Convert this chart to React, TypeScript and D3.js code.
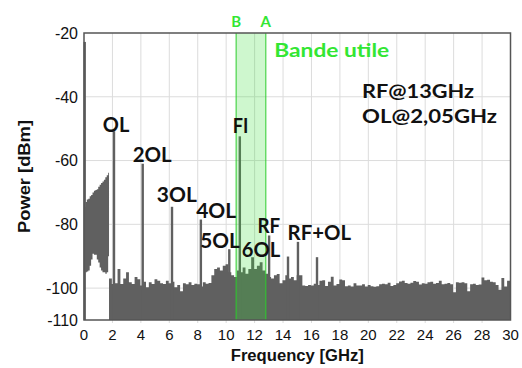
import React from 'react';
import * as d3 from 'd3';

// ---- data ----
const X_TICKS = [0, 2, 4, 6, 8, 10, 12, 14, 16, 18, 20, 22, 24, 26, 28, 30];
const Y_TICKS = [-20, -40, -60, -80, -100, -110];
const GRID_Y = [-40, -60, -80, -100];

// low-frequency region (0 - 1.7 GHz), envelope of a fast-oscillating trace
const LOW_FREQ = [0, 0.1, 0.2, 0.3, 0.4, 0.5, 0.6, 0.7, 0.8, 0.9, 1.0, 1.1, 1.2, 1.3, 1.4, 1.5, 1.6, 1.7];
const LOW_UPPER = [-74.5, -73, -72.2, -72, -71.2, -70.8, -70, -69.5, -69.2, -69, -68.2, -67.6, -67, -66.6, -66, -65.2, -64.6, -63.8];
const LOW_LOWER = [-95, -95, -94.8, -94.5, -93, -91, -89.2, -89.5, -89.5, -91, -92, -93.5, -94.5, -95, -95, -95.5, -95, -90];

// noise floor from 1.76 GHz to 30 GHz, every 0.2 GHz
const FLOOR_START = 1.76;
const FLOOR_STEP = 0.2;
const FLOOR = [
  -97, -98.7, -98.5, -94, -98.7, -97, -95, -98.2, -98.7, -96.5,
  -97.2, -99.2, -98, -99.7, -98.2, -98.7, -97.2, -97.7, -98.5, -98.7,
  -97.7, -98.5, -98, -99.7, -99, -101, -98.5, -98.8, -98.2, -99,
  -98.6, -98.8, -99.5, -98.2, -98.6, -98.4, -96, -94, -93.5, -94.5,
  -93, -92.5, -95, -96, -96.5, -94.5, -95, -93.5, -95.5, -94,
  -90.3, -94, -93, -91.9, -94.5, -95.5, -96.5, -97, -96, -95.6,
  -98.5, -97.5, -96, -97, -96.5, -97.5, -96, -96, -99.2, -99.3,
  -99, -99.2, -98.6, -99, -97.7, -97.5, -99.3, -98, -96.4, -99.2,
  -98.7, -97.3, -97.5, -99.4, -99.2, -99.5, -98.5, -99.2, -99.2, -98.8,
  -99.5, -99, -99.4, -99.6, -99.4, -98.8, -98.6, -98.8, -98.3, -99.3,
  -99, -98.5, -97.9, -97.7, -98.4, -98.6, -98.3, -97.8, -98, -98.9,
  -98.5, -98.6, -98.2, -98, -98.6, -98.4, -97.7, -98.8, -98.6, -98.4,
  -98.8, -101.3, -98.2, -98.3, -98.2, -98.5, -101, -98.8, -98.6, -99,
  -98.9, -96.7, -97.5, -97.4, -98, -98.2, -99, -100.5, -96.8, -99.5,
  -97.7, -97.5, -97.5,
];

// discrete spectral lines
const PEAK_FREQ = [0.05, 2.11, 4.13, 6.19, 8.22, 10.22, 10.96, 13.02, 14.35, 15.05, 16.39];
const PEAK_LEVEL = [-22.8, -50.8, -61, -74.5, -78.5, -87.8, -52.4, -83.5, -90.1, -85.5, -90.3];

// useful band limits (GHz)
const BAND_B = 10.7;
const BAND_A = 12.79;

const PEAK_LABELS = ['OL', '2OL', '3OL', '4OL', '5OL', '6OL', 'FI', 'RF', 'RF+OL'];
const INFO_LINES = ['RF@13GHz', 'OL@2,05GHz'];
const BAND_TITLE = 'Bande utile';
const X_TITLE = 'Frequency [GHz]';
const Y_TITLE = 'Power [dBm]';

export default function App() {
  const W = 522;
  const H = 368;
  const x = d3.scaleLinear().domain([0, 30]).range([84, 510.5]);
  const y = d3.scaleLinear().domain([-110, -20]).range([320, 33]);

  const gray = '#606060';
  const green = '#33e633';
  const labelFont = 'Lato, "Open Sans", sans-serif';
  const axisFont = '"Liberation Sans", Arial, sans-serif';

  type Pt = { f: number; lo: number; hi: number };
  const pts: Pt[] = [];
  LOW_FREQ.forEach((f, i) => pts.push({ f, lo: LOW_LOWER[i], hi: LOW_UPPER[i] }));
  FLOOR.forEach((v, i) => pts.push({ f: Math.min(30, FLOOR_START + i * FLOOR_STEP), lo: -110, hi: v }));

  const area = d3
    .area<Pt>()
    .x((d) => x(d.f))
    .y0((d) => y(d.lo))
    .y1((d) => y(d.hi))
    .curve(d3.curveStepAfter);

  // label placement (left x in GHz, baseline in dBm, target width px)
  const peakLabelPos: Record<string, [number, number, number]> = {
    OL: [1.32, -50.9, 26.5],
    '2OL': [3.43, -60.6, 39],
    '3OL': [5.12, -73.1, 40],
    '4OL': [7.89, -77.9, 40],
    '5OL': [8.17, -87.3, 39.5],
    '6OL': [11.1, -90.4, 38.5],
    FI: [10.47, -51.3, 15.6],
    RF: [12.2, -82.6, 22.7],
    'RF+OL': [14.32, -84.9, 63.4],
  };

  const bw = 2.4;

  return (
    <svg
      width={W}
      height={H}
      style={{ position: 'absolute', left: 0, top: 0, background: '#fff' }}
    >
      {/* grid */}
      <g stroke="#dcdcdc" strokeWidth={1}>
        {X_TICKS.filter((t) => t > 0 && t < 30).map((t) => (
          <line key={'gx' + t} x1={x(t)} x2={x(t)} y1={y(-20)} y2={y(-110) + 3} />
        ))}
        {GRID_Y.map((t) => (
          <line key={'gy' + t} x1={x(0)} x2={x(30)} y1={y(t)} y2={y(t)} />
        ))}
      </g>

      {/* spectrum */}
      <path d={area(pts) || ''} fill={gray} stroke="none" />
      {PEAK_FREQ.map((f, i) => (
        <rect
          key={'p' + i}
          x={x(f) - bw / 2}
          width={bw}
          y={y(PEAK_LEVEL[i])}
          height={y(-110) - y(PEAK_LEVEL[i])}
          fill={gray}
        />
      ))}

      {/* useful band */}
      <rect
        x={x(BAND_B)}
        width={x(BAND_A) - x(BAND_B)}
        y={y(-20)}
        height={y(-110) - y(-20)}
        fill="#33dd33"
        opacity={0.24}
      />
      <g stroke="#2ccc2c" strokeWidth={1}>
        <line x1={x(BAND_B)} x2={x(BAND_B)} y1={y(-20)} y2={y(-110)} />
        <line x1={x(BAND_A)} x2={x(BAND_A)} y1={y(-20)} y2={y(-110)} />
      </g>

      {/* frame */}
      <rect
        x={x(0)}
        y={y(-20)}
        width={x(30) - x(0)}
        height={y(-110) - y(-20)}
        fill="none"
        stroke="#555"
        strokeWidth={1.5}
      />

      {/* tick labels */}
      <g fontFamily={axisFont} fontSize={16} fill="#111">
        {Y_TICKS.map((t) => (
          <text key={'ty' + t} x={78} y={y(t)} dy="0.36em" textAnchor="end">
            {t}
          </text>
        ))}
      </g>
      <g fontFamily={axisFont} fontSize={15} fill="#111">
        {X_TICKS.map((t) => (
          <text key={'tx' + t} x={x(t)} y={340} textAnchor="middle">
            {t}
          </text>
        ))}
      </g>

      {/* axis titles */}
      <text
        x={(x(0) + x(30)) / 2}
        y={361}
        textAnchor="middle"
        fontFamily={axisFont}
        fontWeight="bold"
        fontSize={16}
        fill="#111"
        textLength={133}
        lengthAdjust="spacingAndGlyphs"
      >
        {X_TITLE}
      </text>
      <text
        transform={`translate(30,${(y(-20) + y(-110)) / 2}) rotate(-90)`}
        textAnchor="middle"
        fontFamily={axisFont}
        fontWeight="bold"
        fontSize={17}
        fill="#111"
        textLength={113}
        lengthAdjust="spacingAndGlyphs"
      >
        {Y_TITLE}
      </text>

      {/* peak labels */}
      <g fontFamily={labelFont} fontWeight={700} fontSize={20} fill="#111">
        {PEAK_LABELS.map((l) => {
          const [f, db, w] = peakLabelPos[l];
          return (
            <text
              key={l}
              x={x(f)}
              y={y(db)}
              textLength={w}
              lengthAdjust="spacingAndGlyphs"
            >
              {l}
            </text>
          );
        })}
      </g>

      {/* info */}
      <g fontFamily={labelFont} fontWeight={700} fontSize={18} fill="#111">
        <text x={x(19.56)} y={y(-40.3)} textLength={112} lengthAdjust="spacingAndGlyphs">
          {INFO_LINES[0]}
        </text>
        <text x={x(19.56)} y={y(-48.2)} textLength={135} lengthAdjust="spacingAndGlyphs">
          {INFO_LINES[1]}
        </text>
      </g>

      {/* band labels */}
      <g fontFamily={labelFont} fontWeight={700} fill={green}>
        <text x={x(13.38)} y={y(-27.6)} fontSize={19} textLength={115} lengthAdjust="spacingAndGlyphs">
          {BAND_TITLE}
        </text>
        <text x={x(BAND_B)} y={26.6} fontSize={15} textAnchor="middle">
          B
        </text>
        <text x={x(BAND_A)} y={26.6} fontSize={15} textAnchor="middle">
          A
        </text>
      </g>
    </svg>
  );
}
